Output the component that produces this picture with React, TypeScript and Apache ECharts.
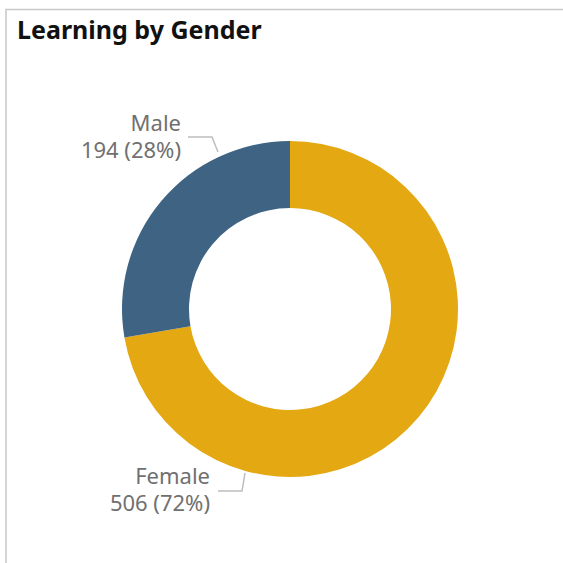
import React, { useEffect, useRef } from "react";
import * as echarts from "echarts";

const categories = ["Female", "Male"];
const values = [506, 194];
const percents = ["72%", "28%"];
const colors = ["#E3A812", "#3E6383"];

export default function App() {
  const ref = useRef<HTMLDivElement>(null);
  useEffect(() => {
    if (!ref.current) return;
    const chart = echarts.init(ref.current, null, { renderer: "svg" });
    const layouts: any = [
      {
        x: 210,
        y: 488,
        align: "right",
        verticalAlign: "middle",
        labelLinePoints: [
          [245, 473],
          [242, 491],
          [218, 491],
        ],
      },
      {
        x: 181,
        y: 135,
        align: "right",
        verticalAlign: "middle",
        labelLinePoints: [
          [218, 152],
          [212, 137],
          [188, 137],
        ],
      },
    ];
    chart.setOption({
      animation: false,
      backgroundColor: "#ffffff",
      title: {
        text: "Learning by Gender",
        left: 12,
        top: 11,
        textStyle: {
          fontFamily: "Noto Sans",
          fontWeight: "bold",
          fontSize: 25,
          color: "#111111",
        },
      },
      graphic: [
        {
          type: "rect",
          shape: { x: 6, y: 9.5, width: 700, height: 700 },
          style: { fill: "none", stroke: "#c8c8c8", lineWidth: 1.5 },
          silent: true,
        },
      ],
      series: [
        {
          type: "pie",
          center: [290, 309],
          radius: [101, 168],
          startAngle: 90,
          clockwise: true,
          data: categories.map((c, i) => ({
            name: c,
            value: values[i],
            itemStyle: { color: colors[i] },
          })),
          label: {
            show: true,
            formatter: (p: any) =>
              `${p.name}\n${p.value} (${percents[p.dataIndex]})`,
            fontFamily: "Noto Sans",
            fontSize: 22,
            lineHeight: 27,
            color: "#707070",
            align: "right",
            overflow: "none",
            width: 200,
          },
          labelLine: {
            show: true,
            lineStyle: { color: "#bdbdbd", width: 1.5 },
          },
          labelLayout: (params: any) => layouts[params.dataIndex],
          emphasis: { disabled: true },
        },
      ],
    });
    return () => chart.dispose();
  }, []);
  return (
    <div
      ref={ref}
      style={{ position: "fixed", left: 0, top: 0, width: 563, height: 563 }}
    />
  );
}
